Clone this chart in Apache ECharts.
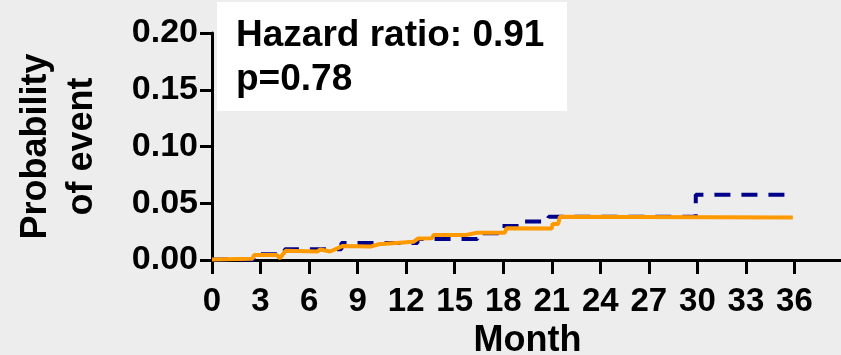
<!DOCTYPE html>
<html>
<head>
<meta charset="utf-8">
<script src="https://cdn.jsdelivr.net/npm/echarts@6/dist/echarts.min.js"></script>
<style>
html,body{margin:0;padding:0;background:#ededed;}
#chart{width:841px;height:355px;}
</style>
</head>
<body>
<div id="chart"></div>
<script>
// x tick labels (months)
const xTicks = [0, 3, 6, 9, 12, 15, 18, 21, 24, 27, 30, 33, 36];
// Group 1 (dashed navy) step-curve change points [month, probability]
const seriesA = [
  [0, 0.0005], [2.6, 0.005], [4.5, 0.0094], [8.0, 0.015], [12.7, 0.0185],
  [16.4, 0.0236], [17.9, 0.030], [19.2, 0.0339], [20.8, 0.038],
  [29.9, 0.0574], [35.9, 0.0574]
];
// Group 2 (solid orange) curve points [month, probability]
const seriesB = [
  [0, 0.0005], [2.5, 0.001], [2.6, 0.0045], [4.0, 0.0045], [4.2, 0.0015],
  [4.55, 0.0082], [6.5, 0.0075], [6.7, 0.0093], [7.3, 0.0075], [8.1, 0.0124],
  [9.8, 0.0118], [10.3, 0.0139], [12.45, 0.016], [12.75, 0.019], [13.6, 0.0192],
  [13.7, 0.022], [15.7, 0.022], [16.4, 0.0241], [18.1, 0.0241], [18.2, 0.028],
  [21.0, 0.0278], [21.05, 0.0318], [21.4, 0.0318], [21.5, 0.038], [35.9, 0.0375]
];
const annotationLines = ['Hazard ratio: 0.91', 'p=0.78'];

const FONT = "'Liberation Sans', Arial, Helvetica, sans-serif";
const chart = echarts.init(document.getElementById('chart'), null, {renderer: 'canvas'});
chart.setOption({
  backgroundColor: '#ededed',
  animation: false,
  grid: {left: 212, right: -2, top: 33, bottom: 95, containLabel: false, outerBoundsMode: 'none'},
  xAxis: {
    type: 'value', min: 0, max: 39, interval: 3,
    name: 'Month', nameLocation: 'middle', nameGap: 57,
    nameTextStyle: {fontFamily: FONT, fontWeight: 'bold', fontSize: 36, color: '#000'},
    axisLine: {show: true, onZero: false, lineStyle: {color: '#000', width: 3}},
    axisTick: {show: true, length: 14, lineStyle: {color: '#000', width: 3}, customValues: xTicks},
    axisLabel: {fontFamily: FONT, fontWeight: 'bold', fontSize: 33, color: '#000', margin: 25, customValues: xTicks},
    splitLine: {show: false}
  },
  yAxis: {
    type: 'value', min: 0, max: 0.2, interval: 0.05,
    name: 'Probability\nof event', nameLocation: 'middle', nameGap: 107, nameRotate: 90,
    nameTextStyle: {fontFamily: FONT, fontWeight: 'bold', fontSize: 36, color: '#000', lineHeight: 46},
    axisLine: {show: true, onZero: false, lineStyle: {color: '#000', width: 3}},
    axisTick: {show: true, length: 12, lineStyle: {color: '#000', width: 3}},
    axisLabel: {fontFamily: FONT, fontWeight: 'bold', fontSize: 34, color: '#000', margin: 14,
      padding: [7, 0, 0, 0], formatter: v => v.toFixed(2)},
    splitLine: {show: false}
  },
  series: [
    {type: 'line', data: seriesA, step: 'end', symbol: 'none', z: 2,
     lineStyle: {color: '#00008B', width: 4, type: [16, 11]}},
    {type: 'line', data: seriesB, symbol: 'none', z: 3,
     lineStyle: {color: '#FF9900', width: 4}}
  ],
  graphic: [
    {type: 'rect', left: 217, top: 2, shape: {width: 350, height: 109}, style: {fill: '#fff'}, z: 10},
    {type: 'text', left: 236, top: 17, z: 11,
     style: {text: annotationLines[0], font: "bold 37px " + FONT, fill: '#000'}},
    {type: 'text', left: 236, top: 61, z: 11,
     style: {text: annotationLines[1], font: "bold 37px " + FONT, fill: '#000'}}
  ]
});
</script>
</body>
</html>
